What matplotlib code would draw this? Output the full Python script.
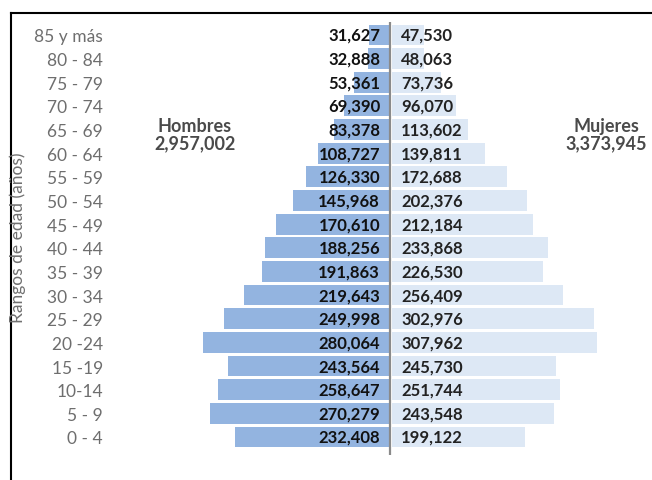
import numpy as np
import matplotlib
matplotlib.use('Agg')
import matplotlib.pyplot as plt
from matplotlib.lines import Line2D

# data: age groups from youngest to oldest
grupos = ['0 - 4', '5 - 9', '10-14', '15 -19', '20 -24', '25 - 29', '30 - 34', '35 - 39',
          '40 - 44', '45 - 49', '50 - 54', '55 - 59', '60 - 64', '65 - 69', '70 - 74',
          '75 - 79', '80 - 84', '85 y más']
hombres = [232408, 270279, 258647, 243564, 280064, 249998, 219643, 191863,
           188256, 170610, 145968, 126330, 108727, 83378, 69390, 53361, 32888, 31627]
mujeres = [199122, 243548, 251744, 245730, 307962, 302976, 256409, 226530,
           233868, 212184, 202376, 172688, 139811, 113602, 96070, 73736, 48063, 47530]
total_hombres = '2,957,002'
total_mujeres = '3,373,945'

plt.rcParams['font.family'] = ['Lato', 'DejaVu Sans']

fig = plt.figure(figsize=(6.52, 4.81), dpi=100)
ax = fig.add_axes([110 / 652, 0, 1 - 110 / 652, 1])

y = np.arange(len(grupos))
ax.barh(y, [-h for h in hombres], height=0.88, color='#93b4e0', edgecolor='none')
ax.barh(y, mujeres, height=0.88, left=3000, color='#dde8f5', edgecolor='none')
ax.vlines(0, -0.75, 17.55, color='#8a8a8a', lw=1.6, zorder=3)

for i in range(len(grupos)):
    ax.text(-15000, y[i], f'{hombres[i]:,}', ha='right', va='center',
            fontsize=12, fontweight='bold', color='#111111', zorder=4)
    ax.text(16500, y[i], f'{mujeres[i]:,}', ha='left', va='center',
            fontsize=12, fontweight='bold', color='#222222', zorder=4)

ax.text(-292800, 12.8, 'Hombres\n' + total_hombres, ha='center', va='center',
        fontsize=13, fontweight='bold', color='#4a4a4a', linespacing=1.05)
ax.text(324300, 12.8, 'Mujeres\n' + total_mujeres, ha='center', va='center',
        fontsize=13, fontweight='bold', color='#4a4a4a', linespacing=1.05)

ax.set_xlim(-420420, 393400)
ax.set_ylim(-1.82, 18.52)
ax.set_yticks(y)
ax.set_yticklabels(grupos, fontsize=12.5, color='#6e6e6e')
ax.tick_params(axis='y', length=0, pad=5)
ax.set_xticks([])
for s in ax.spines.values():
    s.set_visible(False)

fig.text(18 / 652, 1 - 238 / 481, 'Rangos de edad (años)', rotation=90,
         ha='center', va='center', fontsize=12.5, color='#707070')

# frame lines of the screenshot
fig.add_artist(Line2D([11 / 652, 1], [1 - 14 / 481, 1 - 14 / 481], color='black', lw=1.5))
fig.add_artist(Line2D([11 / 652, 11 / 652], [0, 1 - 14 / 481], color='black', lw=1.5))

fig.savefig('out.png', dpi=100)
